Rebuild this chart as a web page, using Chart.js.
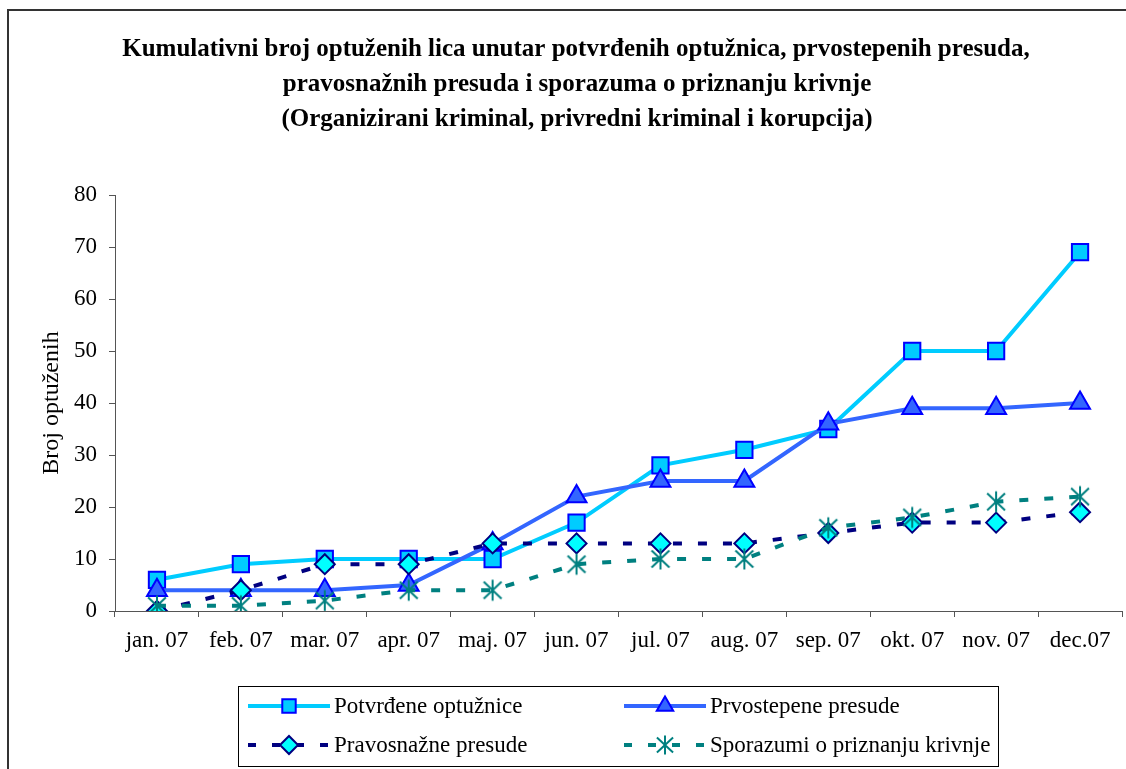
<!DOCTYPE html>
<html>
<head>
<meta charset="utf-8">
<script src="https://cdn.jsdelivr.net/npm/chart.js@4.4.1/dist/chart.umd.min.js"></script>
<style>
  html, body { margin: 0; padding: 0; background: #ffffff; }
  #wrap { width: 1126px; height: 769px; position: relative; }
</style>
</head>
<body>
<div id="wrap"><canvas id="c" width="1126" height="769"></canvas></div>
<script>
// ---- data ----
const categories = ['jan. 07', 'feb. 07', 'mar. 07', 'apr. 07', 'maj. 07', 'jun. 07', 'jul. 07', 'aug. 07', 'sep. 07', 'okt. 07', 'nov. 07', 'dec.07'];
const potvrdeneOptuznice = [6, 9, 10, 10, 10, 17, 28, 31, 35, 50, 50, 69];
const prvostepenePresude = [4, 4, 4, 5, 13, 22, 25, 25, 36, 39, 39, 40];
const pravosnaznePresude = [0, 4, 9, 9, 13, 13, 13, 13, 15, 17, 17, 19];
const sporazumiPriznanje = [1, 1, 2, 4, 4, 9, 10, 10, 16, 18, 21, 22];
const seriesNames = ['Potvrđene optužnice', 'Prvostepene presude', 'Pravosnažne presude', 'Sporazumi o priznanju krivnje'];
const yTicks = [0, 10, 20, 30, 40, 50, 60, 70, 80];
const titleLines = [
  'Kumulativni broj optuženih lica unutar potvrđenih optužnica, prvostepenih presuda,',
  'pravosnažnih presuda i sporazuma o priznanju krivnje',
  '(Organizirani kriminal, privredni kriminal i korupcija)'
];
const yAxisTitle = 'Broj optuženih';

// ---- styles ----
const SERIF = '"Liberation Serif", "Times New Roman", serif';
const C_CYAN = '#00CCFF', C_BLUE = '#3366FF', C_NAVY = '#000080', C_TEAL = '#008080', C_AQUA = '#00FFFF', C_PURE = '#0000FF';

function makeStar(size, color) {
  const cv = document.createElement('canvas');
  cv.width = size; cv.height = size;
  const g = cv.getContext('2d');
  const c = size / 2, r = size / 2 - 1.5;
  g.strokeStyle = color; g.lineWidth = 2;
  g.beginPath();
  g.moveTo(c, c - r); g.lineTo(c, c + r);
  g.moveTo(c - r * 0.85, c - r * 0.8); g.lineTo(c + r * 0.85, c + r * 0.8);
  g.moveTo(c - r * 0.85, c + r * 0.8); g.lineTo(c + r * 0.85, c - r * 0.8);
  g.stroke();
  return cv;
}
const starImg = makeStar(24, C_TEAL);
const starImgSmall = makeStar(22, C_TEAL);

const seriesStyles = [
  { color: C_CYAN, fill: C_CYAN, border: C_PURE, pointStyle: 'rect', radius: 11.5, dash: [] },
  { color: C_BLUE, fill: C_BLUE, border: C_PURE, pointStyle: 'triangle', radius: 11.5, dash: [] },
  { color: C_NAVY, fill: C_AQUA, border: C_NAVY, pointStyle: 'rectRot', radius: 10, dash: [9, 16] },
  { color: C_TEAL, fill: C_TEAL, border: C_TEAL, pointStyle: starImg, radius: 12, dash: [9, 16] }
];
const seriesData = [potvrdeneOptuznice, prvostepenePresude, pravosnaznePresude, sporazumiPriznanje];

const datasets = seriesData.map((d, i) => ({
  label: seriesNames[i],
  data: d,
  borderColor: seriesStyles[i].color,
  backgroundColor: seriesStyles[i].fill,
  borderWidth: 4,
  borderDash: seriesStyles[i].dash,
  tension: 0,
  fill: false,
  pointStyle: seriesStyles[i].pointStyle,
  pointRadius: seriesStyles[i].radius,
  pointHoverRadius: seriesStyles[i].radius,
  pointBackgroundColor: seriesStyles[i].fill,
  pointBorderColor: seriesStyles[i].border,
  pointBorderWidth: 2,
  order: 3 - i
}));

const titleCfg = [ { y: 50, cx: 576 }, { y: 85, cx: 577 }, { y: 120, cx: 577 } ];

const framePlugin = {
  id: 'frame',
  beforeDraw(chart) {
    const ctx = chart.ctx;
    ctx.save();
    ctx.fillStyle = '#ffffff';
    ctx.fillRect(0, 0, chart.width, chart.height);
    ctx.strokeStyle = '#333333';
    ctx.lineWidth = 2;
    ctx.beginPath();
    ctx.moveTo(8, chart.height + 2);
    ctx.lineTo(8, 10);
    ctx.lineTo(chart.width + 2, 10);
    ctx.stroke();
    // title
    ctx.fillStyle = '#000000';
    ctx.font = 'bold 25px ' + SERIF;
    ctx.textAlign = 'center';
    ctx.textBaseline = 'middle';
    titleLines.forEach((t, i) => {
      ctx.fillText(t, titleCfg[i].cx, titleCfg[i].y);
    });
    ctx.restore();
  },
  afterDraw(chart) {
    const ctx = chart.ctx;
    ctx.save();
    // legend box
    ctx.strokeStyle = '#000000';
    ctx.lineWidth = 1;
    ctx.strokeRect(238.5, 686.5, 760, 80);
    const items = [
      { x: 248, y: 706 }, { x: 624, y: 706 },
      { x: 248, y: 745 }, { x: 624, y: 745 }
    ];
    items.forEach((it, i) => {
      const s = seriesStyles[i];
      ctx.save();
      ctx.strokeStyle = s.color;
      ctx.lineWidth = 4;
      ctx.setLineDash(s.dash.length ? [8, 16] : []);
      ctx.beginPath();
      ctx.moveTo(it.x, it.y);
      ctx.lineTo(it.x + 82, it.y);
      ctx.stroke();
      ctx.setLineDash([]);
      ctx.fillStyle = s.fill;
      ctx.strokeStyle = s.border;
      ctx.lineWidth = 2;
      const ps = (i === 3) ? starImgSmall : s.pointStyle;
      Chart.helpers.drawPoint(ctx, { pointStyle: ps, rotation: 0, borderWidth: 2, radius: (i === 2 ? 9 : 9.5) }, it.x + 41, it.y);
      ctx.restore();
      ctx.fillStyle = '#000000';
      ctx.font = '23px ' + SERIF;
      ctx.textAlign = 'left';
      ctx.textBaseline = 'middle';
      ctx.fillText(seriesNames[i], it.x + 86, it.y + 1);
    });
    ctx.restore();
  }
};

new Chart(document.getElementById('c'), {
  type: 'line',
  data: { labels: categories, datasets },
  options: {
    responsive: false,
    animation: false,
    events: [],
    layout: { autoPadding: false, padding: { left: 0, top: 195, right: 4, bottom: 108 } },
    plugins: {
      legend: { display: false },
      title: { display: false },
      tooltip: { enabled: false }
    },
    scales: {
      x: {
        type: 'category',
        offset: true,
        grid: { display: true, offset: true, drawOnChartArea: false, drawTicks: true, tickLength: 6, color: '#555555', lineWidth: 1 },
        border: { display: true, color: '#555555', width: 1 },
        ticks: { color: '#000000', font: { family: SERIF, size: 23, lineHeight: 1.2 }, padding: 10, maxRotation: 0, minRotation: 0, autoSkip: false },
        afterFit(scale) { scale.height = 50; scale.paddingLeft = 0; scale.paddingRight = 0; }
      },
      y: {
        min: 0, max: 80,
        afterBuildTicks(scale) { scale.ticks = yTicks.map(v => ({ value: v })); },
        grid: { display: true, drawOnChartArea: false, drawTicks: true, tickLength: 6, color: '#555555', lineWidth: 1 },
        border: { display: true, color: '#555555', width: 1 },
        ticks: { color: '#000000', font: { family: SERIF, size: 23, lineHeight: 1.2 }, padding: 12 },
        title: { display: true, text: yAxisTitle, color: '#000000', font: { family: SERIF, size: 24, lineHeight: 1.2 }, padding: { top: 37, bottom: 0 } },
        afterFit(scale) { scale.width = 115; }
      }
    }
  },
  plugins: [framePlugin]
});
</script>
</body>
</html>
